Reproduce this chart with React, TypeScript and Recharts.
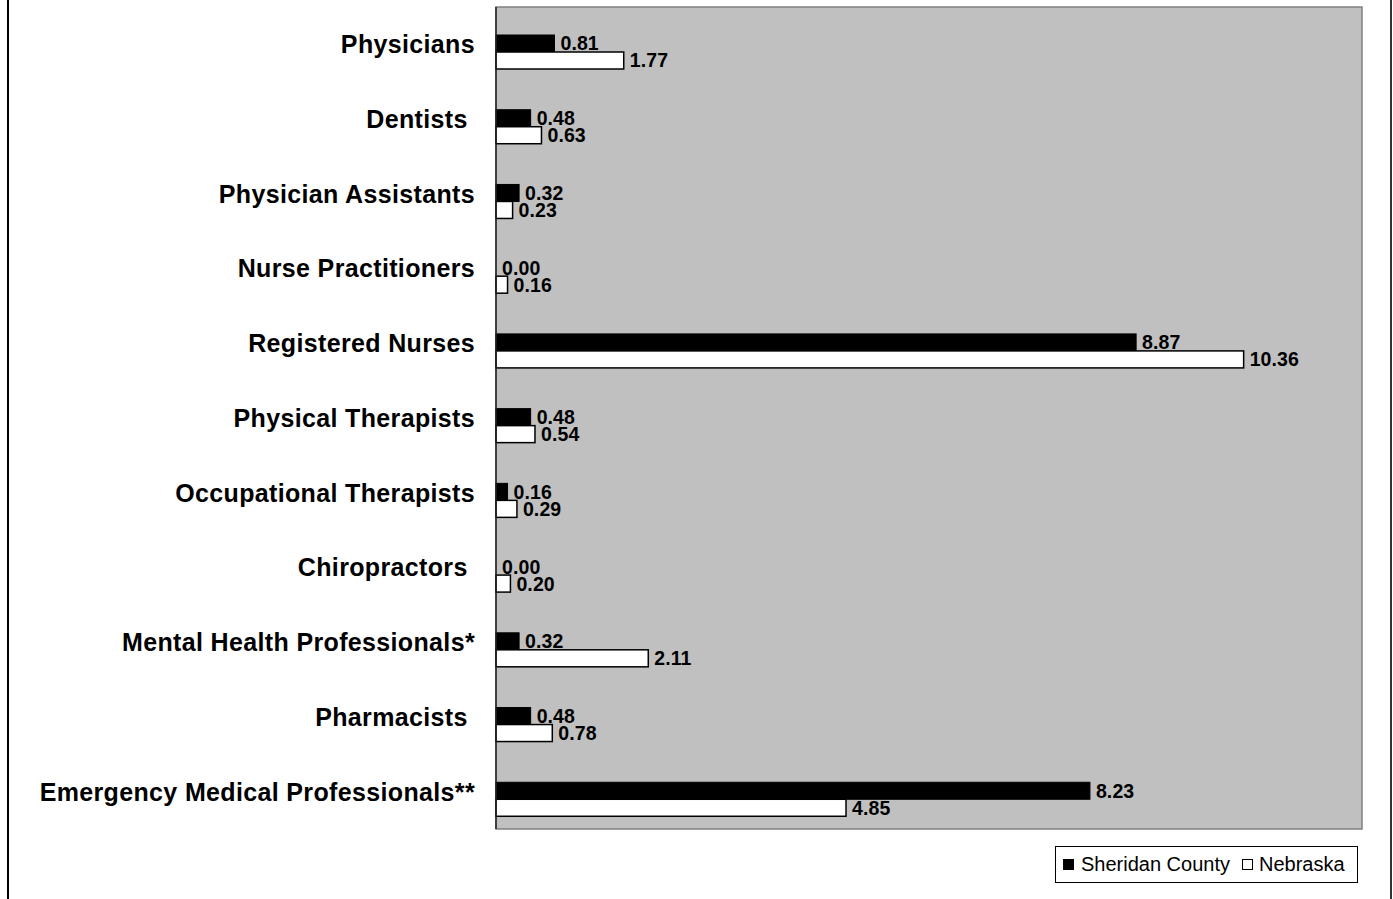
import React from 'react';
import { BarChart, Bar, XAxis, YAxis, CartesianGrid, ReferenceArea, LabelList } from 'recharts';

const categories = [
  'Physicians',
  'Dentists ',
  'Physician Assistants',
  'Nurse Practitioners',
  'Registered Nurses',
  'Physical Therapists',
  'Occupational Therapists',
  'Chiropractors ',
  'Mental Health Professionals*',
  'Pharmacists ',
  'Emergency Medical Professionals**',
];
const sheridanCounty = [0.81, 0.48, 0.32, 0.0, 8.87, 0.48, 0.16, 0.0, 0.32, 0.48, 8.23];
const nebraska = [1.77, 0.63, 0.23, 0.16, 10.36, 0.54, 0.29, 0.2, 2.11, 0.78, 4.85];
const seriesNames = ['Sheridan County', 'Nebraska'];
const xDomain = [0, 12];

const data = categories.map((name, i) => ({
  name,
  sheridan: sheridanCounty[i],
  nebraska: nebraska[i],
}));

const FONT = '"Liberation Sans", Arial, Helvetica, sans-serif';
const SHIFT = 8;

const ShiftedBar = (props: any) => {
  const { x, y, width, height, fill, stroke, strokeWidth } = props;
  if (width <= 0) return null;
  return (
    <rect
      x={x}
      y={y + SHIFT}
      width={width}
      height={height}
      fill={fill}
      stroke={stroke}
      strokeWidth={strokeWidth}
    />
  );
};

const ValueLabel = (props: any) => {
  const { x, y, width, height, value } = props;
  return (
    <text
      x={x + width + 6}
      y={y + height / 2 + SHIFT}
      dy="0.355em"
      textAnchor="start"
      fontFamily={FONT}
      fontWeight="bold"
      fontSize={19.5}
      letterSpacing={0.1}
      fill="#000"
    >
      {Number(value).toFixed(2)}
    </text>
  );
};

const CatTick = (props: any) => {
  const { x, y, payload } = props;
  return (
    <text
      x={x}
      y={y}
      dy="0.355em"
      textAnchor="end"
      fontFamily={FONT}
      fontWeight="bold"
      fontSize={25}
      letterSpacing={0.35}
      fill="#000"
      style={{ whiteSpace: 'pre' }}
    >
      {payload.value}
    </text>
  );
};

export default function App() {
  return (
    <div
      style={{
        position: 'absolute',
        left: 0,
        top: 0,
        width: 1393,
        height: 899,
        overflow: 'hidden',
        background: '#fff',
      }}
    >
      <div
        style={{
          position: 'absolute',
          left: 7,
          top: -10,
          width: 1381,
          height: 1000,
          borderLeft: '2px solid #000',
          borderRight: '2px solid #333',
        }}
      />
      <div style={{ position: 'absolute', left: 0, top: 0 }}>
        <BarChart
          width={1393}
          height={899}
          data={data}
          layout="vertical"
          margin={{ top: 7, right: 31, bottom: 70, left: 0 }}
          barGap={0}
          barSize={17}
        >
          <CartesianGrid horizontal={false} vertical={false} fill="#C0C0C0" fillOpacity={1} />
          <ReferenceArea x1={xDomain[0]} x2={xDomain[1]} fill="none" stroke="#808080" strokeWidth={1.5} />
          <XAxis type="number" domain={xDomain} hide />
          <YAxis
            type="category"
            dataKey="name"
            width={496}
            tick={<CatTick />}
            tickLine={false}
            tickSize={0}
            tickMargin={21}
            axisLine={{ stroke: '#222', strokeWidth: 1.5 }}
            interval={0}
          />
          <Bar
            dataKey="sheridan"
            name={seriesNames[0]}
            fill="#000"
            stroke="#000"
            strokeWidth={1}
            shape={<ShiftedBar />}
            isAnimationActive={false}
          >
            <LabelList dataKey="sheridan" content={<ValueLabel />} />
          </Bar>
          <Bar
            dataKey="nebraska"
            name={seriesNames[1]}
            fill="#fff"
            stroke="#000"
            strokeWidth={1.5}
            shape={<ShiftedBar />}
            isAnimationActive={false}
          >
            <LabelList dataKey="nebraska" content={<ValueLabel />} />
          </Bar>
        </BarChart>
      </div>
      <div
        style={{
          position: 'absolute',
          left: 1055,
          top: 846,
          width: 301,
          height: 35,
          border: '1px solid #000',
          background: '#fff',
          boxSizing: 'content-box',
          display: 'flex',
          alignItems: 'center',
          fontFamily: FONT,
          fontSize: 20,
          color: '#000',
          whiteSpace: 'nowrap',
        }}
      >
        <span
          style={{
            display: 'inline-block',
            width: 11,
            height: 11,
            background: '#000',
            marginLeft: 7,
            marginRight: 7,
          }}
        />
        <span>{seriesNames[0]}</span>
        <span
          style={{
            display: 'inline-block',
            width: 9,
            height: 9,
            border: '1px solid #000',
            background: '#fff',
            marginLeft: 12,
            marginRight: 6,
          }}
        />
        <span>{seriesNames[1]}</span>
      </div>
    </div>
  );
}
